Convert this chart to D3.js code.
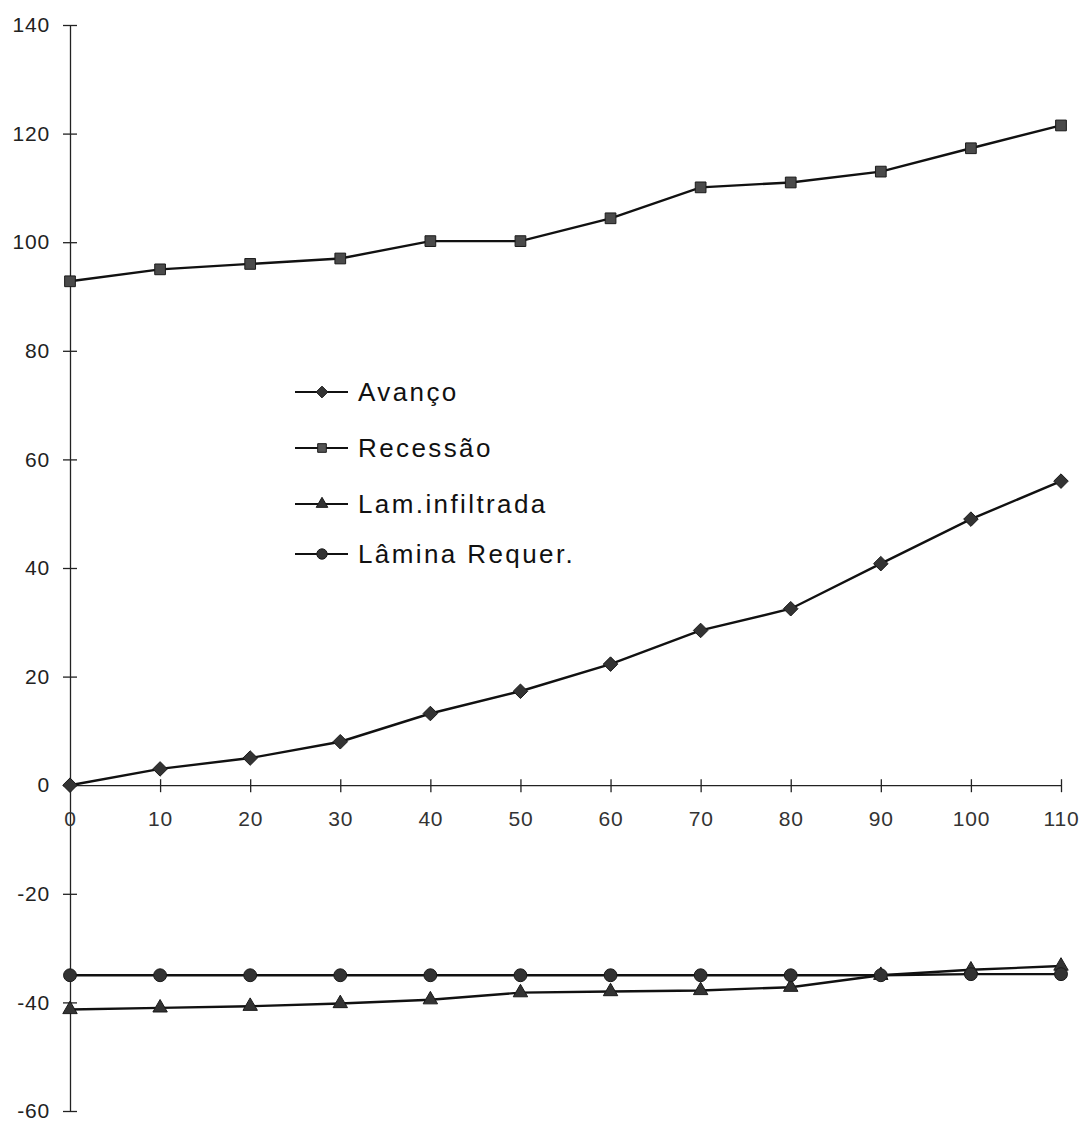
<!DOCTYPE html>
<html><head><meta charset="utf-8">
<script src="https://cdn.jsdelivr.net/npm/d3@7"></script>
<style>
html,body{margin:0;padding:0;background:#fff;}
svg{display:block;font-family:"Liberation Sans",Arial,sans-serif;}
</style></head>
<body>
<svg id="chart" width="1087" height="1122"></svg>
<script>
const xValues = [0,10,20,30,40,50,60,70,80,90,100,110];
const avanco = [0,3,5,8,13.2,17.3,22.3,28.5,32.5,40.8,49,56];
const recessao = [92.8,95,96,97,100.2,100.2,104.4,110.1,111,113,117.3,121.5];
const lamInfiltrada = [-41.3,-41,-40.7,-40.2,-39.5,-38.2,-38,-37.8,-37.2,-35,-34,-33.3];
const laminaRequer = [-35,-35,-35,-35,-35,-35,-35,-35,-35,-35,-34.8,-34.8];
const seriesNames = ["Avanço","Recessão","Lam.infiltrada","Lâmina Requer."];
const seriesSymbols = ["diamond","square","triangle","circle"];
const xTicks = [0,10,20,30,40,50,60,70,80,90,100,110];
const yTicks = [-60,-40,-20,0,20,40,60,80,100,120,140];

const svg = d3.select("#chart");
const x = d3.scaleLinear().domain([0,110]).range([70,1061]);
const y = d3.scaleLinear().domain([-60,140]).range([1111,25]);

// Y axis
const yAxis = svg.append("g").attr("transform",`translate(${x(0)},0)`)
  .call(d3.axisLeft(y).tickValues(yTicks).tickSize(0).tickPadding(20).tickFormat(d=>String(d)));
yAxis.attr("font-size",null).attr("font-family",null);
yAxis.select(".domain").attr("stroke","#222").attr("stroke-width",1.3);
yAxis.selectAll(".tick line").remove();
yAxis.selectAll(".tick").append("line").attr("x1",-7).attr("x2",7).attr("stroke","#222").attr("stroke-width",1.3);
yAxis.selectAll(".tick text").style("font-size","21px").attr("letter-spacing","0.8px").attr("fill","#222");

// X axis
const xAxis = svg.append("g").attr("transform",`translate(0,${y(0)})`)
  .call(d3.axisBottom(x).tickValues(xTicks).tickSize(0).tickPadding(26).tickFormat(d=>String(d)));
xAxis.attr("font-size",null).attr("font-family",null);
xAxis.select(".domain").attr("stroke","#222").attr("stroke-width",1.3);
xAxis.selectAll(".tick line").remove();
xAxis.selectAll(".tick").append("line").attr("y1",-6).attr("y2",7).attr("stroke","#222").attr("stroke-width",1.3);
xAxis.selectAll(".tick text").style("font-size","21px").attr("letter-spacing","0.8px").attr("fill","#333");

const symType = {diamond:d3.symbolDiamond2, square:d3.symbolSquare, triangle:d3.symbolTriangle, circle:d3.symbolCircle};
const symSize = {diamond:135, square:115, triangle:90, circle:130};

const allSeries = [avanco, recessao, lamInfiltrada, laminaRequer];
const line = d3.line().x((d,i)=>x(xValues[i])).y(d=>y(d));

allSeries.forEach((vals,k)=>{
  const g = svg.append("g");
  g.append("path").datum(vals).attr("d",line).attr("fill","none").attr("stroke","#111").attr("stroke-width",2.4);
  g.selectAll("path.m").data(vals).join("path").attr("class","m")
    .attr("transform",(d,i)=>`translate(${x(xValues[i])},${y(d)})`)
    .attr("d",d3.symbol().type(symType[seriesSymbols[k]]).size(symSize[seriesSymbols[k]]))
    .attr("fill", seriesSymbols[k]==="square" ? "#4a4a4a" : "#333")
    .attr("stroke","#1a1a1a").attr("stroke-width",1);
});

// Legend
const legendY = [392,448,504,554];
const legend = svg.append("g");
seriesNames.forEach((name,k)=>{
  const ly = legendY[k];
  legend.append("line").attr("x1",295).attr("x2",348).attr("y1",ly).attr("y2",ly).attr("stroke","#111").attr("stroke-width",2);
  legend.append("path").attr("transform",`translate(322,${ly})`)
    .attr("d",d3.symbol().type(symType[seriesSymbols[k]]).size(symSize[seriesSymbols[k]]*0.65))
    .attr("fill", seriesSymbols[k]==="square" ? "#555" : "#333").attr("stroke","#1a1a1a").attr("stroke-width",1);
  legend.append("text").attr("x",358).attr("y",ly+9).style("font-size","26px").attr("letter-spacing","2.4px")
    .attr("fill","#111").text(name);
});
</script>
</body></html>
